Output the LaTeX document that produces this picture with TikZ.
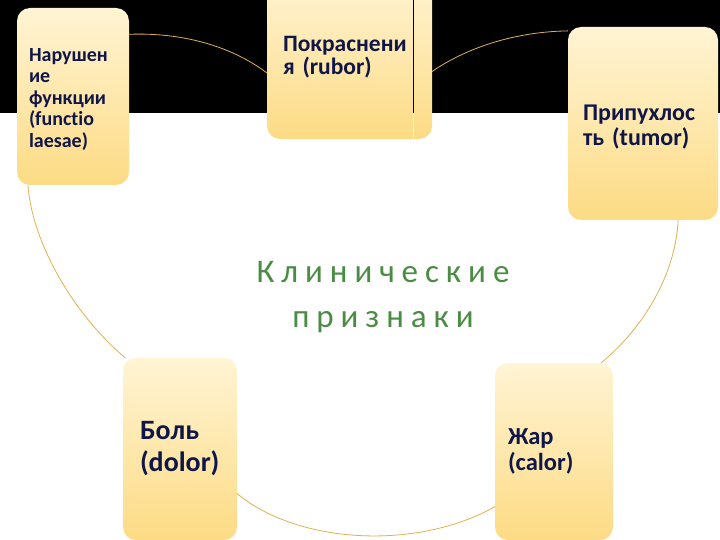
\documentclass[tikz,border=0pt]{standalone}
\usepackage{fontspec}
\setmainfont{Carlito}[Ligatures={NoCommon}]
\definecolor{signtop}{RGB}{255,244,212}
\definecolor{signbot}{RGB}{252,219,132}
\definecolor{ink}{RGB}{16,22,72}
\definecolor{ringcol}{RGB}{222,178,80}
\definecolor{headcol}{RGB}{74,140,68}
\tikzset{
  sign/.style={rounded corners=13pt,top color=signtop,bottom color=signbot,draw=none,
    text=ink,align=left,inner ysep=0pt,outer sep=0pt},
  ring/.style={ringcol,line width=0.8pt},
}
\begin{document}
\begin{tikzpicture}[x=1pt,y=-1pt]
            %	\draw[line width=0.1pt,dashed,gray] (0,0) grid[step=20] (720,540);
            \useasboundingbox (0,0) rectangle (720,540);
            \fill[white] (0,0) rectangle (720,540);
            \fill[black] (0,0) rectangle (720,113);
            \node[sign,text width=88pt,inner xsep=12pt,minimum height=177pt,font=\bfseries\fontsize{20}{21.5}\selectfont] (laesio) at (73,96.5) {\rule{0pt}{19pt}Нарушен\\ие\\функции\\(functio\\laesae)};
            \node[sign,text width=133pt,inner xsep=16pt,minimum height=164pt,font=\bfseries\fontsize{23.5}{23.5}\selectfont] (rubor) at (349.5,57) {Покраснени\\я (rubor)};
            \node[sign,text width=120pt,inner xsep=15pt,minimum height=193pt,font=\bfseries\fontsize{24}{25}\selectfont] (tumor) at (643,123.5) {\rule{0pt}{23pt}Припухлос\\ть (tumor)};
            \node[sign,text width=80pt,inner xsep=17pt,minimum height=182pt,font=\bfseries\fontsize{28}{32}\selectfont] (dolor) at (180,449) {Боль\\(dolor)};
            \node[sign,text width=92pt,inner xsep=13pt,minimum height=177pt,font=\bfseries\fontsize{24.5}{26.5}\selectfont] (calor) at (554,451.5) {Жар\\(calor)};
            \node[text=headcol,align=center,font=\fontsize{33}{45}\selectfont\addfontfeatures{LetterSpace=21}] (title) at (383,297) {Клинические\\признаки};
            \draw[ring] (tumor.-70) .. controls +(-2,48) and +(48,-40) .. (calor.62);
            \draw[ring] (calor.223) .. controls +(-75,43) and +(63,52) .. (dolor.-38);
            \draw[ring] (dolor.121) .. controls +(-55,-47) and +(4,55) .. (laesio.-117);
            \draw[ring] (laesio.48) .. controls +(51,-2) and +(-37,-28) .. (rubor.191);
            \draw[ring] (rubor.-10) .. controls +(32,-22) and +(-57,1) .. (tumor.129);
            \draw[black,line width=0.8pt] (413,-5) -- (413,113);
            \draw[white!60!signbot,line width=0.8pt] (413,113) -- (413,139);
\end{tikzpicture}
\end{document}
